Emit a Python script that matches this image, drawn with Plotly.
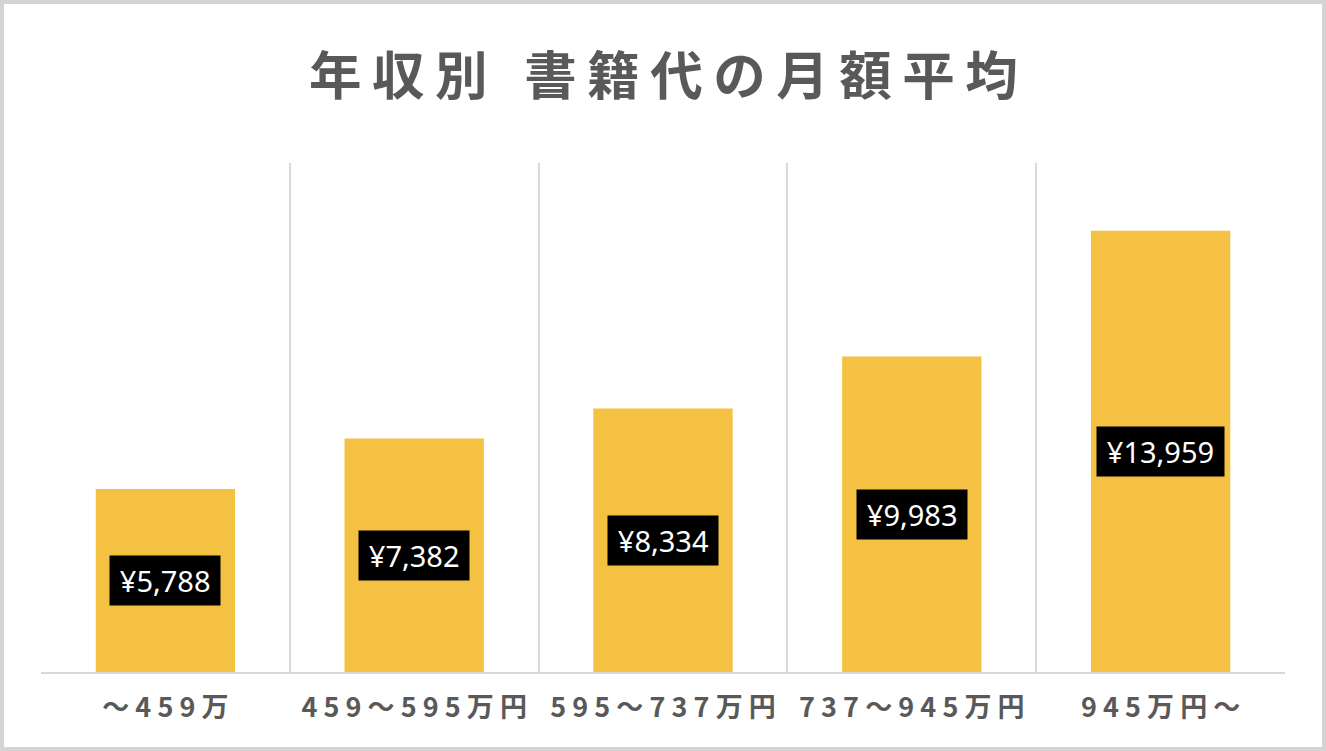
import plotly.graph_objects as go

categories = ["～459万", "459～595万円", "595～737万円", "737～945万円", "945万円～"]
values = [5788, 7382, 8334, 9983, 13959]
value_labels = ["¥5,788", "¥7,382", "¥8,334", "¥9,983", "¥13,959"]
title_words = ["年収別", "書籍代の月額平均"]

tick_text = [" ".join(list(c)) for c in categories]
title_spaced = "\u2002\u2009".join("\u2009".join(list(w)) for w in title_words)

fig = go.Figure()
fig.add_trace(go.Bar(
    x=categories, y=values, width=0.56,
    marker=dict(color="#F4C142", line=dict(width=0)),
    hoverinfo="skip",
))

for c, v, t in zip(categories, values, value_labels):
    fig.add_annotation(
        x=c, y=v / 2, xref="x", yref="y", text="\u2009" + t + "\u2009", showarrow=False,
        font=dict(family="Noto Sans, Open Sans, sans-serif", size=29, color="white"),
        bgcolor="black", borderpad=5,
    )

fig.add_annotation(
    xref="paper", yref="paper", x=0.5, y=1, yshift=91, yanchor="middle",
    text=title_spaced, showarrow=False,
    font=dict(family="Noto Sans CJK JP", size=52.5, color="#595959", weight="bold"),
)

# outer frame
fig.add_shape(type="rect", xref="paper", yref="paper",
              x0=-41 / 1244 + 0.0016, x1=1 + 41 / 1244 - 0.0016,
              y0=-79 / 509 + 0.004, y1=1 + 163 / 509 - 0.004,
              line=dict(color="#d4d4d4", width=4), layer="below")

fig.update_layout(
    width=1326, height=751,
    margin=dict(l=41, r=41, t=163, b=79),
    paper_bgcolor="white", plot_bgcolor="white",
    showlegend=False,
    bargap=0.44,
    xaxis=dict(
        type="category", range=[-0.5, 4.5],
        tickvals=categories, ticktext=tick_text,
        tickson="boundaries", ticks="", showgrid=True,
        gridcolor="#d9d9d9", gridwidth=2,
        showline=True, linecolor="#d9d9d9", linewidth=2,
        tickfont=dict(family="Noto Sans CJK JP", size=27, color="#595959", weight="bold"),
        ticklabelstandoff=11,
    ),
    yaxis=dict(range=[0, 16100], showgrid=False, showticklabels=False,
               zeroline=False, showline=False, ticks=""),
)

fig.write_html("out.html", config={"displayModeBar": False},
               post_script="document.body.style.margin='0';document.body.style.overflow='hidden';")
